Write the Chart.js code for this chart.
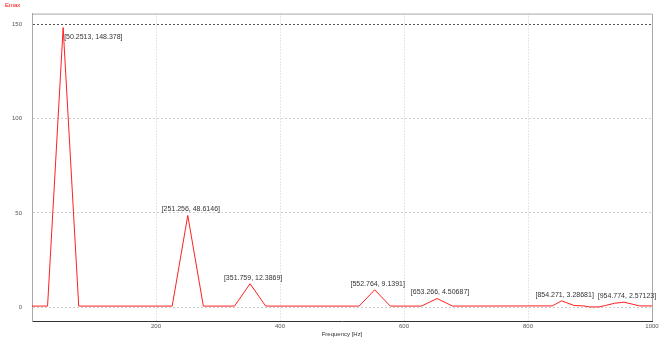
<!DOCTYPE html>
<html>
<head>
<meta charset="utf-8">
<script src="https://cdn.jsdelivr.net/npm/chart.js@4/dist/chart.umd.min.js"></script>
<style>
html,body{margin:0;padding:0;background:#fff;}
#wrap{width:664px;height:338px;}
</style>
</head>
<body>
<div id="wrap"><canvas id="c" width="664" height="338"></canvas></div>
<script>
// Spectrum vertices (frequency in Hz, amplitude)
const freqHz = [0, 25.1256, 50.2513, 75.3769, 226.131, 251.256, 276.382, 326.633, 351.759, 376.884,
  527.638, 552.764, 577.889, 628.141, 653.266, 678.392, 839.196, 854.271, 874.372, 889.447,
  899.497, 914.573, 924.623, 939.698, 954.774, 979.899, 1000];
const amplitude = [0.5, 0.5, 148.378, 0.5, 0.5, 48.6146, 0.5, 0.5, 12.3869, 0.5,
  0.5, 9.1391, 0.5, 0.5, 4.50687, 0.5, 0.6, 3.28681, 0.8, 0.6,
  0.05, 0.05, 0.8, 2.0, 2.57123, 0.6, 0.6];

// Labelled peaks
const peakFreq = [50.2513, 251.256, 351.759, 552.764, 653.266, 854.271, 954.774];
const peakAmp = [148.378, 48.6146, 12.3869, 9.1391, 4.50687, 3.28681, 2.57123];

const xTicks = [200, 400, 600, 800, 1000];
const yTicks = [0, 50, 100, 150];
const xTitle = 'Frequency [Hz]';
const emaxLabel = 'Emax';

const yMax = 148.378 * 1.05;
const yMin = -148.378 * 0.05;

const extras = {
  id: 'extras',
  afterDraw(chart) {
    const ctx = chart.ctx;
    const a = chart.chartArea;
    const xs = chart.scales.x, ys = chart.scales.y;
    ctx.save();
    // top & right frame
    ctx.strokeStyle = '#a8a8a8';
    ctx.lineWidth = 1;
    ctx.beginPath();
    ctx.moveTo(a.left, a.top + 0.5);
    ctx.lineTo(a.right + 0.5, a.top + 0.5);
    ctx.lineTo(a.right + 0.5, a.bottom);
    ctx.stroke();
    // Emax label
    ctx.fillStyle = '#ff0000';
    ctx.font = '6px "Liberation Sans", Arial, sans-serif';
    ctx.textBaseline = 'middle';
    ctx.textAlign = 'left';
    ctx.fillText(emaxLabel, 5, 5);
    // peak labels
    ctx.fillStyle = '#333';
    ctx.font = '7px "Liberation Sans", Arial, sans-serif';
    for (let i = 0; i < peakFreq.length; i++) {
      const px = xs.getPixelForValue(peakFreq[i]);
      const py = ys.getPixelForValue(peakAmp[i]);
      const txt = '[' + peakFreq[i] + ', ' + peakAmp[i] + ']';
      if (i === 0) {
        ctx.textAlign = 'left';
        ctx.fillText(txt, px + 1, py + 9);
      } else {
        ctx.textAlign = 'center';
        ctx.fillText(txt, px + 3, py - 6);
      }
    }
    ctx.restore();
  }
};

new Chart(document.getElementById('c'), {
  type: 'line',
  data: {
    datasets: [{
      data: freqHz.map((f, i) => ({x: f, y: amplitude[i]})),
      borderColor: '#ff2020',
      borderWidth: 1,
      pointRadius: 0,
      tension: 0,
      fill: false
    }]
  },
  options: {
    responsive: false,
    animation: false,
    devicePixelRatio: 1,
    layout: {padding: {left: 0, right: 12, top: 13, bottom: 0}},
    plugins: {legend: {display: false}, tooltip: {enabled: false}},
    scales: {
      x: {
        type: 'linear',
        min: 0,
        max: 1000,
        afterBuildTicks(s) { s.ticks = [0].concat(xTicks).map(v => ({value: v})); },
        afterFit(s) { s.height = 17; },
        ticks: {
          callback: v => (v === 0 ? '' : String(v)),
          font: {size: 6, family: '"Liberation Sans", Arial, sans-serif'},
          color: '#555',
          padding: 2,
          maxRotation: 0,
          autoSkip: false
        },
        grid: {
          drawTicks: false,
          color: ctx => (ctx.tick && (ctx.tick.value === 0 || ctx.tick.value === 1000) ? 'rgba(0,0,0,0)' : '#cfcfcf'),
          lineWidth: 1
        },
        border: {display: true, color: '#333', width: 1, dash: [1, 2]},
        title: {
          display: true,
          text: xTitle,
          font: {size: 6, family: '"Liberation Sans", Arial, sans-serif'},
          color: '#333',
          padding: {top: 0, bottom: 0}
        }
      },
      y: {
        type: 'linear',
        min: yMin,
        max: yMax,
        afterBuildTicks(s) { s.ticks = yTicks.map(v => ({value: v})); },
        afterFit(s) { s.width = 32; },
        ticks: {
          font: {size: 6, family: '"Liberation Sans", Arial, sans-serif'},
          color: '#555',
          padding: 10
        },
        grid: {
          drawTicks: false,
          color: ctx => (ctx.tick && ctx.tick.value === 150 ? '#555' : '#d0d0d0'),
          lineWidth: 1
        },
        border: {display: true, color: '#a8a8a8', width: 1, dash: [2, 2]}
      }
    }
  },
  plugins: [extras]
});
</script>
</body>
</html>
